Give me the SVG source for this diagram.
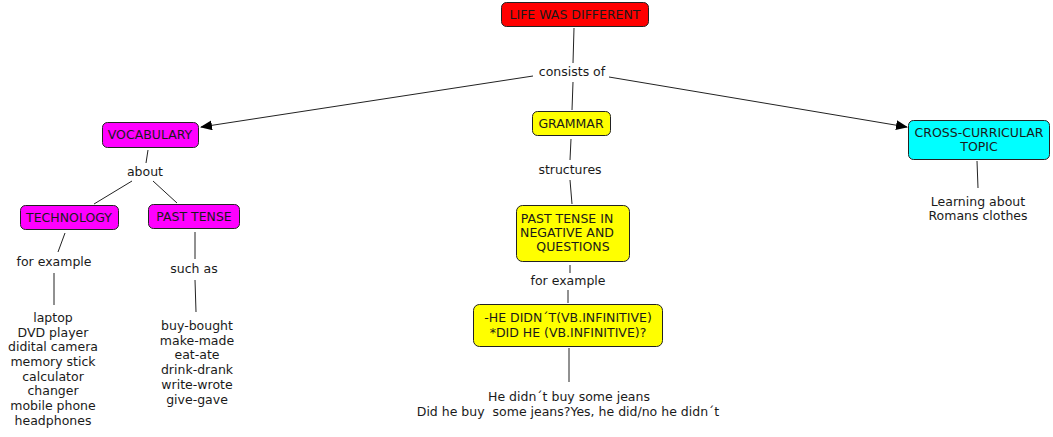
<svg xmlns="http://www.w3.org/2000/svg" width="1053" height="437" viewBox="0 0 1053 437">
<defs>
<marker id="arr" viewBox="0 0 12 10" refX="11" refY="5" markerWidth="12" markerHeight="10" markerUnits="userSpaceOnUse" orient="auto">
<path d="M0,0 L12,5 L0,10 z" fill="#000"/>
</marker>
<style>
text{font-family:"DejaVu Sans",Verdana,sans-serif;font-size:12.5px;fill:#1a1a1a;text-anchor:middle}
.n{stroke:#222;stroke-width:1}
.c line{stroke:#222;stroke-width:1}
.a{marker-end:url(#arr)}
</style>
</defs>
<rect width="1053" height="437" fill="#fff"/>
<g class="c" id="connectors">
<line x1="574" y1="28" x2="573" y2="63"/>
<line class="a" x1="533" y1="76" x2="201" y2="127"/>
<line x1="573" y1="82" x2="572" y2="110"/>
<line class="a" x1="609" y1="77" x2="907" y2="127"/>
<line x1="148" y1="150" x2="146" y2="163"/>
<line x1="132" y1="181" x2="94" y2="204"/>
<line x1="153" y1="181" x2="177" y2="203"/>
<line x1="65" y1="233" x2="58" y2="252"/>
<line x1="54" y1="273" x2="54" y2="305"/>
<line x1="195" y1="232" x2="195" y2="259"/>
<line x1="195" y1="280" x2="196" y2="312"/>
<line x1="571" y1="139" x2="570" y2="160"/>
<line x1="570" y1="180" x2="572" y2="204"/>
<line x1="570" y1="265" x2="570" y2="273"/>
<line x1="568" y1="290" x2="568" y2="303"/>
<line x1="569" y1="348" x2="569" y2="382"/>
<line x1="977" y1="161" x2="978" y2="188"/>
</g>
<g id="life">
<rect class="n" x="501.5" y="2.5" width="147" height="24" rx="5" fill="#ff0000"/>
<text x="575" y="19">LIFE WAS DIFFERENT</text>
</g>
<g id="consists">
<rect x="535" y="63" width="74" height="18" fill="#fff"/>
<text x="572" y="76">consists of</text>
</g>
<g id="grammar">
<rect class="n" x="532.5" y="111.5" width="78" height="24" rx="5" fill="#ffff00"/>
<text x="571" y="128">GRAMMAR</text>
</g>
<g id="vocabulary">
<rect class="n" x="102.5" y="122.5" width="96" height="25" rx="5" fill="#ff00ff"/>
<text x="150" y="139">VOCABULARY</text>
</g>
<g id="cross">
<rect class="n" x="908.5" y="120.5" width="141" height="39" rx="5" fill="#00ffff"/>
<text x="979" y="137">CROSS-CURRICULAR</text>
<text x="979" y="151">TOPIC</text>
</g>
<g id="about">
<text x="145" y="176">about</text>
</g>
<g id="technology">
<rect class="n" x="20.5" y="205.5" width="98" height="24" rx="5" fill="#ff00ff"/>
<text x="69" y="222">TECHNOLOGY</text>
</g>
<g id="pasttense">
<rect class="n" x="148.5" y="204.5" width="91" height="24" rx="5" fill="#ff00ff"/>
<text x="194" y="221">PAST TENSE</text>
</g>
<g id="forexample1">
<text x="54" y="266">for example</text>
</g>
<g id="suchas">
<text x="194" y="273">such as</text>
</g>
<g id="techlist">
<text x="53" y="322">laptop</text>
<text x="53" y="337">DVD player</text>
<text x="53" y="351">didital camera</text>
<text x="53" y="366">memory stick</text>
<text x="53" y="381">calculator</text>
<text x="53" y="395">changer</text>
<text x="53" y="410">mobile phone</text>
<text x="53" y="425">headphones</text>
</g>
<g id="verblist">
<text x="197" y="330">buy-bought</text>
<text x="197" y="345">make-made</text>
<text x="197" y="359">eat-ate</text>
<text x="197" y="374">drink-drank</text>
<text x="197" y="389">write-wrote</text>
<text x="197" y="404">give-gave</text>
</g>
<g id="structures">
<text x="570" y="174">structures</text>
</g>
<g id="pastneg">
<rect class="n" x="516.5" y="205.5" width="113" height="56" rx="6" fill="#ffff00"/>
<text x="567" y="223">PAST TENSE IN</text>
<text x="567" y="237">NEGATIVE AND</text>
<text x="573" y="251">QUESTIONS</text>
</g>
<g id="forexample2">
<text x="568" y="285">for example</text>
</g>
<g id="hedidnt">
<rect class="n" x="473.5" y="304.5" width="189" height="42" rx="6" fill="#ffff00"/>
<text x="568" y="322">-HE DIDN´T(VB.INFINITIVE)</text>
<text x="568" y="337">*DID HE (VB.INFINITIVE)?</text>
</g>
<g id="jeans">
<text x="569" y="401">He didn´t buy some jeans</text>
<text x="568" y="416" xml:space="preserve">Did he buy  some jeans?Yes, he did/no he didn´t</text>
</g>
<g id="learning">
<text x="978" y="206">Learning about</text>
<text x="978" y="220">Romans clothes</text>
</g>
</svg>
